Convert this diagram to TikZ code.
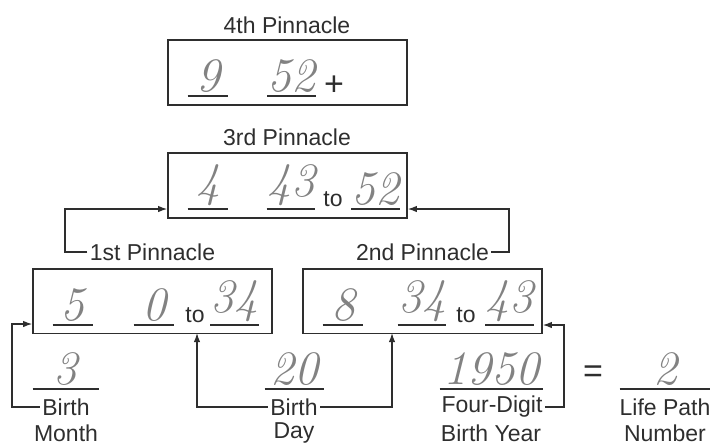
\documentclass[tikz,border=0pt]{standalone}
\usepackage{fontspec}
\setsansfont{Liberation Sans}
\renewcommand{\familydefault}{\sfdefault}
\newfontfamily\numfam{Latin Modern Roman}[Numbers=Lining]
\usepackage{tikz}
\usepackage{xcolor}
\usetikzlibrary{arrows.meta,positioning,calc}
\definecolor{ink}{HTML}{2E2E2E}
\definecolor{numgrey}{HTML}{828282}
\newcommand{\pinnum}{\numfam\itshape\fontsize{24}{24}\selectfont}
\tikzset{
  pbox/.style={draw=ink, line width=0.8pt, inner sep=0pt,
               minimum width=119.5pt, minimum height=32.3pt},
  lbl/.style={text=ink, inner xsep=1pt, inner ysep=2pt, font=\fontsize{11.5}{13}\selectfont},
  fillin/.style={anchor=south, inner xsep=0pt, inner ysep=1.5pt, font=\pinnum, text=numgrey,
                 append after command={\pgfextra{\let\ulnode\tikzlastnode
                   \draw[draw=ink,line width=0.7pt] (\ulnode.south west) -- (\ulnode.south east);}}},
  tiny/.style={anchor=base, text=ink, inner sep=0pt, font=\fontsize{11.5}{13}\selectfont},
  sign/.style={text=ink, inner sep=0pt, font=\fontsize{17}{17}\selectfont},
  conn/.style={draw=ink, line width=0.6pt},
  arrow/.style={conn, -{Latex[length=4.5pt,width=3.2pt]}}
}
\begin{document}
\begin{tikzpicture}[x=0.5pt,y=-0.5pt]
    \useasboundingbox (0,0) rectangle (713,446);

    % ===== 4th pinnacle =====
    \node[lbl] (t4) at (287,25) {4th Pinnacle};
    \node[pbox] (p4) at (287.5,72.5) {};
    \node[fillin, minimum width=20pt] (a9) at (208,96) {9};
    \node[fillin, minimum width=20.5pt] (a52) at (291.5,96) {52};
    \node[sign] (plus) at (334,86) {+};

    % ===== 3rd pinnacle =====
    \node[lbl] (t3) at (287,137) {3rd Pinnacle};
    \node[pbox] (p3) at (287.5,185.5) {};
    \node[fillin, minimum width=20pt] (b4) at (208,209) {4};
    \node[fillin, minimum width=20pt] (b43) at (291,209) {43};
    \node[tiny] (bto) at (333,206) {to};
    \node[fillin, minimum width=21.5pt] (b52) at (375.5,209) {52};

    % ===== 1st and 2nd pinnacle =====
    \node[lbl] (t1) at (152.5,252) {1st Pinnacle};
    \node[lbl] (t2) at (422.5,252) {2nd Pinnacle};
    \node[pbox] (p1) at (152.5,301) {};
    \node[pbox] (p2) at (422.5,301) {};
    \node[fillin, minimum width=20pt] (c5) at (73,325) {5};
    \node[fillin, minimum width=20pt] (c0) at (154,325) {0};
    \node[tiny] (cto) at (195,322) {to};
    \node[fillin, minimum width=20.5pt] (c34) at (234.5,325) {34};
    \node[fillin, minimum width=20pt] (d8) at (343,325) {8};
    \node[fillin, minimum width=19.5pt] (d34) at (422,325) {34};
    \node[tiny] (dto) at (466,322) {to};
    \node[fillin, minimum width=22.5pt] (d43) at (509.5,325) {43};

    % ===== birth data =====
    \node[fillin, minimum width=33pt] (e3) at (66,389) {3};
    \node[lbl] (bm1) at (66,407) {Birth};
    \node[lbl] (bm2) at (66,433) {Month};
    \node[fillin, minimum width=29.5pt] (e20) at (294.5,389) {20};
    \node[lbl] (bd1) at (294,407) {Birth};
    \node[lbl] (bd2) at (294,433) {Day};
    \node[fillin, minimum width=51.5pt] (e1950) at (491.5,389) {1950};
    \node[lbl] (fy1) at (492,407) {Four-Digit};
    \node[lbl] (fy2) at (491,433) {Birth Year};
    \node[sign] (eq) at (593,374) {=};
    \node[fillin, minimum width=45pt] (e2) at (665,389) {2};
    \node[lbl] (lp1) at (665,407) {Life Path};
    \node[lbl] (lp2) at (665,433) {Number};

    % ===== link arrows =====
    \coordinate (k1) at (65,209);
    \coordinate (k2) at (509,209);
    \coordinate (km) at (12,324);
    \coordinate (kd1) at (197,333);
    \coordinate (kd2) at (392,333);
    \coordinate (ky) at (564,325);
    \draw[arrow] (t1.west) -| (k1) -- (k1 -| p3.west);
    \draw[arrow] (t2.east) -| (k2) -- (k2 -| p3.east);
    \draw[arrow] (bm1.west) -| (km) -- (km -| p1.west);
    \draw[arrow] (bd1.west) -| (kd1);
    \draw[arrow] (bd1.east) -| (kd2);
    \draw[arrow] (fy1.east) -| (ky) -- (ky -| p2.east);
  \end{tikzpicture}
\end{document}
